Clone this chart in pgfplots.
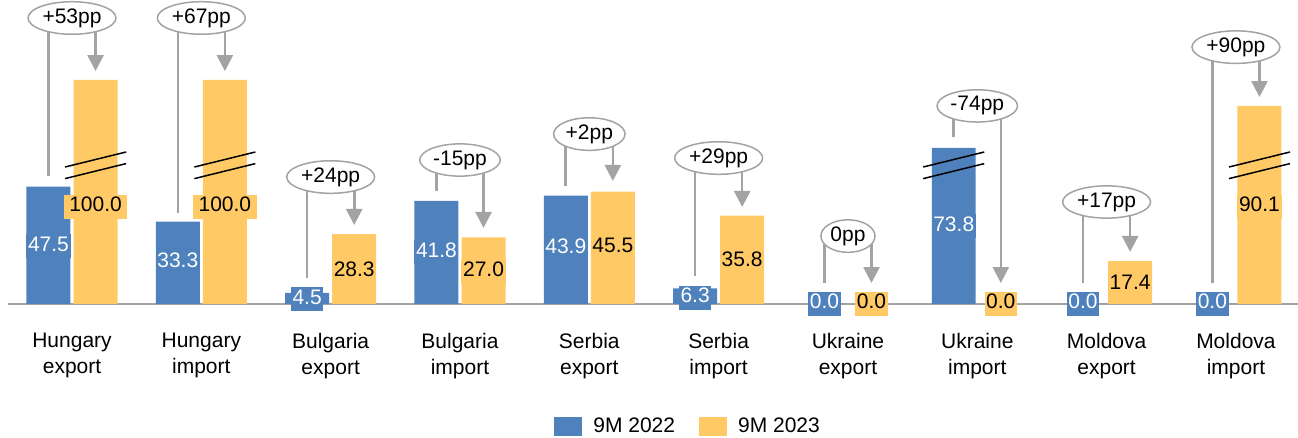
\documentclass[border=0pt]{standalone}
\usepackage{fontspec}
\setmainfont{Liberation Sans}
\usepackage{pgfplots}
\pgfplotsset{compat=1.18}
\usetikzlibrary{arrows.meta,shapes.geometric,calc}

\definecolor{c22}{HTML}{4F81BD}
\definecolor{c23}{HTML}{FFC966}
\definecolor{lg}{HTML}{A3A3A3}

\newcommand\fnt{\fontsize{10.5}{12.5}\selectfont}

% annotation: x, ellipse y, left line end, arrow tip, text
\newcommand\ann[5]{%
  \draw[lg, line width=1.3pt] (axis cs:#1-0.182,#2) -- (axis cs:#1-0.182,#3);
  \draw[lg, line width=1.3pt, -{Triangle[length=8pt,width=8pt]}] (axis cs:#1+0.182,#2) -- (axis cs:#1+0.182,#4);
  \node[ellipse, draw=lg, line width=0.75pt, fill=white, inner xsep=0.8pt, inner ysep=1pt, font=\fnt] at (axis cs:#1,#2) {#5};
}
% axis break marks on a bar
\newcommand\brk[1]{%
  \draw[black, line width=0.75pt] (axis cs:#1-0.236,55.46) -- (axis cs:#1+0.236,61.54);
  \draw[black, line width=0.75pt] (axis cs:#1-0.236,50.76) -- (axis cs:#1+0.236,56.84);
}

\begin{document}
\begin{tikzpicture}
\begin{axis}[
    name=ax,
    scale only axis, width=645pt, height=152pt,
    xmin=-0.495, xmax=9.48, ymin=0, ymax=123.08,
    axis x line*=bottom, axis y line=none,
    x axis line style={-, draw=lg, line width=1pt},
    xtick={0,...,9}, major tick length=0pt,
    xticklabels={{Hungary\\export},{Hungary\\import},{Bulgaria\\export},{Bulgaria\\import},
      {Serbia\\export},{Serbia\\import},{Ukraine\\export},{Ukraine\\import},
      {Moldova\\export},{Moldova\\import}},
    xticklabel style={align=center, font=\fontsize{10.5}{13}\selectfont, yshift=-11pt},
    clip=false,
    legend style={at={(0.528,-0.4046)}, anchor=center, draw=none, fill=none,
      legend columns=2, font=\fnt,
      /tikz/every odd column/.append style={column sep=3.5pt},
      /tikz/every even column/.append style={column sep=10pt}},
    mylegend/.style={legend image code/.code={\fill[##1] (0pt,-4.75pt) rectangle (14pt,4.75pt);}},
    lbl/.style={forget plot, draw=none, nodes near coords, point meta=explicit symbolic,
      every node near coord/.append style={anchor=center, font=\fnt,
        inner xsep=0.8pt, inner ysep=1pt, text height=0.75em, text depth=0.25em}},
]
% bars (broken bars drawn at their shortened height)
\addplot[ybar, bar width=0.34, bar shift=-0.182, fill=c22, draw=none, mylegend] coordinates {
(0,47.5)(1,33.3)(2,4.5)(3,41.8)(4,43.9)(5,6.3)(6,0)(7,63.2)(8,0)(9,0)};
\addlegendentry{9M 2022}
\addplot[ybar, bar width=0.34, bar shift=0.182, fill=c23, draw=none, mylegend] coordinates {
(0,90.7)(1,90.7)(2,28.3)(3,27.0)(4,45.5)(5,35.8)(6,0)(7,0)(8,17.4)(9,80.2)};
\addlegendentry{9M 2023}

\brk{0.182}
\brk{1.182}
\brk{6.818}
\brk{9.182}

% value labels
\addplot[lbl, every node near coord/.append style={fill=c22, text=white}] coordinates {
(-0.182,23.3)[47.5] (0.818,16.65)[33.3] (1.818,2.0)[4.5] (2.818,20.9)[41.8]
(3.818,22.5)[43.9] (4.818,2.6)[6.3] (5.818,0)[0.0] (6.818,31.4)[73.8]
(7.818,0)[0.0] (8.818,0)[0.0]};
\addplot[lbl, every node near coord/.append style={fill=c23, text=black}] coordinates {
(2.182,13.0)[28.3] (3.182,13.0)[27.0]
(4.182,22.75)[45.5] (5.182,17.4)[35.8] (6.182,0)[0.0] (7.182,0)[0.0]
(8.182,7.9)[17.4] (9.182,39.3)[90.1]};
\addplot[lbl, every node near coord/.append style={fill=c23, text=black, inner xsep=2.8pt}] coordinates {
(0.182,39.3)[100.0] (1.182,39.3)[100.0]};

% change annotations
\ann{0}{115.8}{51.8}{94.3}{+53pp}
\ann{1}{115.8}{36.8}{94.3}{+67pp}
\ann{2}{51.4}{10.5}{32.0}{+24pp}
\ann{3}{58.3}{45.7}{30.8}{-15pp}
\ann{4}{68.8}{47.8}{49.8}{+2pp}
\ann{5}{59.1}{11.3}{39.3}{+29pp}
\ann{6}{27.5}{8.5}{8.5}{0pp}
\ann{7}{80.2}{67.6}{8.5}{-74pp}
\ann{8}{41.3}{8.5}{21.1}{+17pp}
\ann{9}{104.0}{8.5}{83.8}{+90pp}
\end{axis}
\pgfresetboundingbox
\path[use as bounding box] ($(ax.south west)+(-4pt,-67pt)$) rectangle (ax.north east);
\end{tikzpicture}
\end{document}
